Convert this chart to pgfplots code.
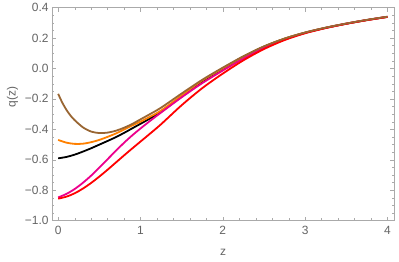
\documentclass[border=0pt]{standalone}
\usepackage{fontspec}
\setmainfont{Liberation Sans}
\usepackage{pgfplots}
\pgfplotsset{compat=1.18}
\definecolor{framegray}{RGB}{170,170,170}
\definecolor{lblgray}{RGB}{100,100,100}
\definecolor{mmaorange}{RGB}{255,128,0}
\definecolor{mmabrown}{RGB}{153,102,51}
\begin{document}
\begin{tikzpicture}
\begin{axis}[
  scale only axis, width=342bp, height=213bp,
  xmin=-0.075, xmax=4.08, ymin=-1, ymax=0.4,
  xtick={0,1,2,3,4}, minor x tick num=4,
  ytick={-1,-0.8,-0.6,-0.4,-0.2,0,0.2,0.4}, minor y tick num=3,
  yticklabels={−1.0,−0.8,−0.6,−0.4,−0.2,0.0,0.2,0.4},
  xticklabels={0,1,2,3,4},
  axis line style={framegray},
  tick style={framegray},
  major tick length=4bp, minor tick length=2.3bp,
  tick label style={lblgray, font=\fontsize{12}{14}\selectfont},
  xticklabel style={yshift=-2bp},
  label style={lblgray, font=\fontsize{12}{14}\selectfont},
  xlabel={z}, ylabel={q(z)},
  xlabel style={at={(axis description cs:0.5,0)}, anchor=center, yshift=-32bp},
  ylabel style={at={(axis description cs:-0.1155,0.58)}, anchor=center},
]
\addplot[black, line width=1.8bp, smooth] coordinates {
(0,-0.591) (0.1,-0.582) (0.2,-0.567) (0.3,-0.547) (0.4,-0.525) (0.5,-0.501)
(0.6,-0.477) (0.7,-0.452) (0.8,-0.424) (0.9,-0.394) (1.0,-0.364) (1.1,-0.334)
(1.25,-0.285) (1.5,-0.185) (1.75,-0.085) (2.0,-0.003) (2.25,0.077) (2.5,0.143)
(2.75,0.195) (3.0,0.235) (3.25,0.267) (3.5,0.294) (3.75,0.318) (4.0,0.339)};
\addplot[mmaorange, line width=1.8bp, smooth] coordinates {
(0,-0.470) (0.1,-0.488) (0.2,-0.496) (0.3,-0.495) (0.4,-0.485) (0.5,-0.470)
(0.6,-0.450) (0.7,-0.428) (0.8,-0.402) (0.9,-0.375) (1.0,-0.350) (1.1,-0.322)
(1.25,-0.277) (1.5,-0.178) (1.75,-0.080) (2.0,0.000) (2.25,0.077) (2.5,0.143)
(2.75,0.195) (3.0,0.235) (3.25,0.267) (3.5,0.294) (3.75,0.318) (4.0,0.339)};
\addplot[magenta, line width=1.8bp, smooth] coordinates {
(0,-0.848) (0.1,-0.825) (0.2,-0.793) (0.3,-0.752) (0.4,-0.705) (0.5,-0.652)
(0.6,-0.597) (0.7,-0.542) (0.8,-0.489) (0.9,-0.440) (1.0,-0.395) (1.1,-0.352)
(1.25,-0.290) (1.5,-0.190) (1.75,-0.097) (2.0,-0.014) (2.25,0.064) (2.5,0.136)
(2.75,0.190) (3.0,0.233) (3.25,0.266) (3.5,0.294) (3.75,0.318) (4.0,0.339)};
\addplot[red, line width=1.8bp, smooth] coordinates {
(0,-0.856) (0.1,-0.843) (0.2,-0.821) (0.3,-0.790) (0.4,-0.753) (0.5,-0.711)
(0.6,-0.666) (0.7,-0.619) (0.8,-0.572) (0.9,-0.526) (1.0,-0.481) (1.1,-0.436)
(1.25,-0.367) (1.5,-0.242) (1.75,-0.130) (2.0,-0.034) (2.25,0.053) (2.5,0.127)
(2.75,0.186) (3.0,0.231) (3.25,0.265) (3.5,0.293) (3.75,0.317) (4.0,0.338)};
\addplot[mmabrown, line width=1.8bp, smooth] coordinates {
(0,-0.167) (0.05,-0.225) (0.1,-0.272) (0.15,-0.310) (0.2,-0.340) (0.3,-0.387)
(0.4,-0.415) (0.5,-0.425) (0.6,-0.422) (0.7,-0.410) (0.8,-0.390) (0.9,-0.365)
(1.0,-0.335) (1.1,-0.305) (1.25,-0.258) (1.5,-0.165) (1.75,-0.075) (2.0,0.005)
(2.25,0.080) (2.5,0.145) (2.75,0.196) (3.0,0.236) (3.25,0.268) (3.5,0.295)
(3.75,0.319) (4.0,0.340)};
\end{axis}
\path ([xshift=-52bp,yshift=-41bp]current axis.south west) rectangle ([xshift=5bp,yshift=7bp]current axis.north east);
\end{tikzpicture}
\end{document}
